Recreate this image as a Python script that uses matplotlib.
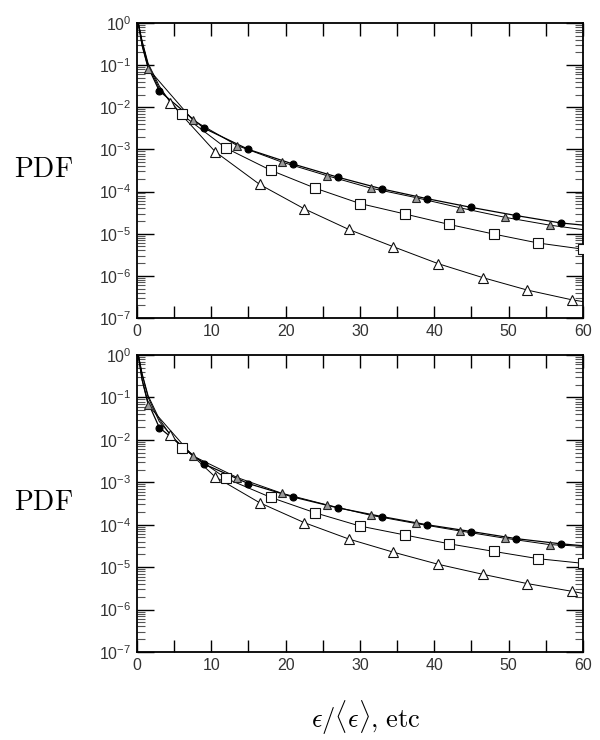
import numpy as np
import matplotlib
matplotlib.use("Agg")
import matplotlib.pyplot as plt
from matplotlib.ticker import LogLocator, MultipleLocator, NullFormatter, FixedLocator

plt.rcParams['font.family'] = ['Liberation Sans', 'DejaVu Sans']

# ---------------- data ----------------
# Top panel
top_c_x = [3, 9, 15, 21, 27, 33, 39, 45, 51, 57]
top_c_y = [2.45e-2, 3.2e-3, 1.0e-3, 4.5e-4, 2.2e-4, 1.15e-4, 6.8e-5, 4.2e-5, 2.7e-5, 1.8e-5]
top_c_head_x = [0.2, 0.7, 1.5]
top_c_head_y = [0.95, 0.30, 0.09]
top_c_tail_x = [60]
top_c_tail_y = [1.6e-5]

top_g_x = [1.5, 7.5, 13.5, 19.5, 25.5, 31.5, 37.5, 43.5, 49.5, 55.5]
top_g_y = [8.3e-2, 5.0e-3, 1.23e-3, 5.0e-4, 2.4e-4, 1.2e-4, 7.2e-5, 4.1e-5, 2.45e-5, 1.6e-5]
top_g_head_x = [0.2, 0.7]
top_g_head_y = [0.90, 0.28]
top_g_tail_x = [60]
top_g_tail_y = [1.25e-5]

top_s_x = [6, 12, 18, 24, 30, 36, 42, 48, 54, 60]
top_s_y = [6.8e-3, 1.07e-3, 3.2e-4, 1.2e-4, 5.2e-5, 2.95e-5, 1.66e-5, 9.8e-6, 6.0e-6, 4.3e-6]
top_s_head_x = [0.2, 0.7, 1.5, 3]
top_s_head_y = [0.95, 0.35, 0.10, 0.028]
top_s_tail_x = []
top_s_tail_y = []

top_t_x = [4.5, 10.5, 16.5, 22.5, 28.5, 34.5, 40.5, 46.5, 52.5, 58.5]
top_t_y = [1.29e-2, 8.9e-4, 1.48e-4, 3.9e-5, 1.26e-5, 4.9e-6, 1.95e-6, 9.1e-7, 4.6e-7, 2.7e-7]
top_t_head_x = [0.2, 0.7, 1.5, 3]
top_t_head_y = [0.97, 0.37, 0.11, 0.032]
top_t_tail_x = [60]
top_t_tail_y = [2.45e-7]

# Bottom panel
bot_c_x = [3, 9, 15, 21, 27, 33, 39, 45, 51, 57]
bot_c_y = [1.95e-2, 2.7e-3, 9.3e-4, 4.5e-4, 2.5e-4, 1.55e-4, 1.0e-4, 6.9e-5, 4.7e-5, 3.55e-5]
bot_c_head_x = [0.2, 0.7, 1.5]
bot_c_head_y = [0.93, 0.26, 0.075]
bot_c_tail_x = [60]
bot_c_tail_y = [3.2e-5]

bot_g_x = [1.5, 7.5, 13.5, 19.5, 25.5, 31.5, 37.5, 43.5, 49.5, 55.5]
bot_g_y = [6.6e-2, 4.2e-3, 1.29e-3, 5.5e-4, 2.95e-4, 1.66e-4, 1.07e-4, 7.1e-5, 4.8e-5, 3.4e-5]
bot_g_head_x = [0.2, 0.7]
bot_g_head_y = [0.90, 0.25]
bot_g_tail_x = [60]
bot_g_tail_y = [3.1e-5]

bot_s_x = [6, 12, 18, 24, 30, 36, 42, 48, 54, 60]
bot_s_y = [6.6e-3, 1.23e-3, 4.4e-4, 1.9e-4, 9.3e-5, 5.75e-5, 3.55e-5, 2.35e-5, 1.58e-5, 1.23e-5]
bot_s_head_x = [0.2, 0.7, 1.5, 3]
bot_s_head_y = [0.95, 0.34, 0.10, 0.027]
bot_s_tail_x = []
bot_s_tail_y = []

bot_t_x = [4.5, 10.5, 16.5, 22.5, 28.5, 34.5, 40.5, 46.5, 52.5, 58.5]
bot_t_y = [1.29e-2, 1.35e-3, 3.3e-4, 1.12e-4, 4.6e-5, 2.25e-5, 1.17e-5, 6.8e-6, 4.1e-6, 2.7e-6]
bot_t_head_x = [0.2, 0.7, 1.5, 3]
bot_t_head_y = [0.97, 0.36, 0.11, 0.031]
bot_t_tail_x = [60]
bot_t_tail_y = [2.4e-6]

x_ticks = [0, 10, 20, 30, 40, 50, 60]
y_decades = [1e0, 1e-1, 1e-2, 1e-3, 1e-4, 1e-5, 1e-6, 1e-7]

# ---------------- drawing ----------------
fig = plt.figure(figsize=(6.0, 7.4), dpi=100)
ax_top = fig.add_axes([0.2283, 0.5703, 0.7433, 0.3986])
ax_bot = fig.add_axes([0.2283, 0.1189, 0.7433, 0.4014])

styles = {
    'c': dict(marker='o', ms=5.0, mfc='black', mec='black', mew=0.8, lw=0.9),
    'g': dict(marker='^', ms=6.3, mfc='#9a9a9a', mec='#222222', mew=0.8, lw=0.7),
    's': dict(marker='s', ms=6.5, mfc='white', mec='#111111', mew=0.8, lw=0.7),
    't': dict(marker='^', ms=7.2, mfc='white', mec='#111111', mew=0.8, lw=0.7),
}


def draw_series(ax, hx, hy, mx, my, tx, ty, st):
    lx = list(hx) + list(mx) + list(tx)
    ly = list(hy) + list(my) + list(ty)
    ax.plot(lx, ly, color='black', lw=st['lw'], zorder=2)
    ax.plot(mx, my, ls='none', marker=st['marker'], ms=st['ms'], mfc=st['mfc'],
            mec=st['mec'], mew=st['mew'], zorder=3)


panels = [
    (ax_top, [
        (top_t_head_x, top_t_head_y, top_t_x, top_t_y, top_t_tail_x, top_t_tail_y, 't'),
        (top_s_head_x, top_s_head_y, top_s_x, top_s_y, top_s_tail_x, top_s_tail_y, 's'),
        (top_g_head_x, top_g_head_y, top_g_x, top_g_y, top_g_tail_x, top_g_tail_y, 'g'),
        (top_c_head_x, top_c_head_y, top_c_x, top_c_y, top_c_tail_x, top_c_tail_y, 'c'),
    ]),
    (ax_bot, [
        (bot_t_head_x, bot_t_head_y, bot_t_x, bot_t_y, bot_t_tail_x, bot_t_tail_y, 't'),
        (bot_s_head_x, bot_s_head_y, bot_s_x, bot_s_y, bot_s_tail_x, bot_s_tail_y, 's'),
        (bot_g_head_x, bot_g_head_y, bot_g_x, bot_g_y, bot_g_tail_x, bot_g_tail_y, 'g'),
        (bot_c_head_x, bot_c_head_y, bot_c_x, bot_c_y, bot_c_tail_x, bot_c_tail_y, 'c'),
    ]),
]

for ax, series in panels:
    for hx, hy, mx, my, tx, ty, key in series:
        draw_series(ax, hx, hy, mx, my, tx, ty, styles[key])
    ax.set_yscale('log')
    ax.set_xlim(0, 60)
    ax.set_ylim(1e-7, 1e0)
    ax.xaxis.set_major_locator(FixedLocator(x_ticks))
    ax.xaxis.set_minor_locator(MultipleLocator(5))
    ax.yaxis.set_major_locator(FixedLocator(y_decades))
    ax.yaxis.set_minor_locator(LogLocator(base=10, subs=np.arange(2, 10), numticks=20))
    ax.yaxis.set_minor_formatter(NullFormatter())
    ax.tick_params(which='both', direction='in', top=True, right=True)
    ax.tick_params(which='major', axis='x', length=9, width=1.0, pad=4)
    ax.tick_params(which='minor', axis='x', length=9, width=1.0)
    ax.tick_params(which='major', axis='y', length=12, width=1.0, pad=4)
    ax.tick_params(which='minor', axis='y', length=6, width=0.8, color='#555555')
    ax.tick_params(which='major', labelsize=11.5, labelcolor='#333333')
    for sp in ax.spines.values():
        sp.set_linewidth(1.3)
    ax.set_ylabel(r'$\mathrm{PDF}$', fontsize=20, math_fontfamily='cm',
                  rotation=0, labelpad=0)
    ax.yaxis.set_label_coords(-0.21, 0.5)
    ax.yaxis.label.set_verticalalignment('center')
    ax.yaxis.label.set_horizontalalignment('center')

fig.text(0.61, 0.03, r'$\epsilon/\langle\epsilon\rangle{,}\ \mathrm{etc}$',
         fontsize=19, math_fontfamily='cm', ha='center', va='center')

fig.savefig('out.png', dpi=100)
